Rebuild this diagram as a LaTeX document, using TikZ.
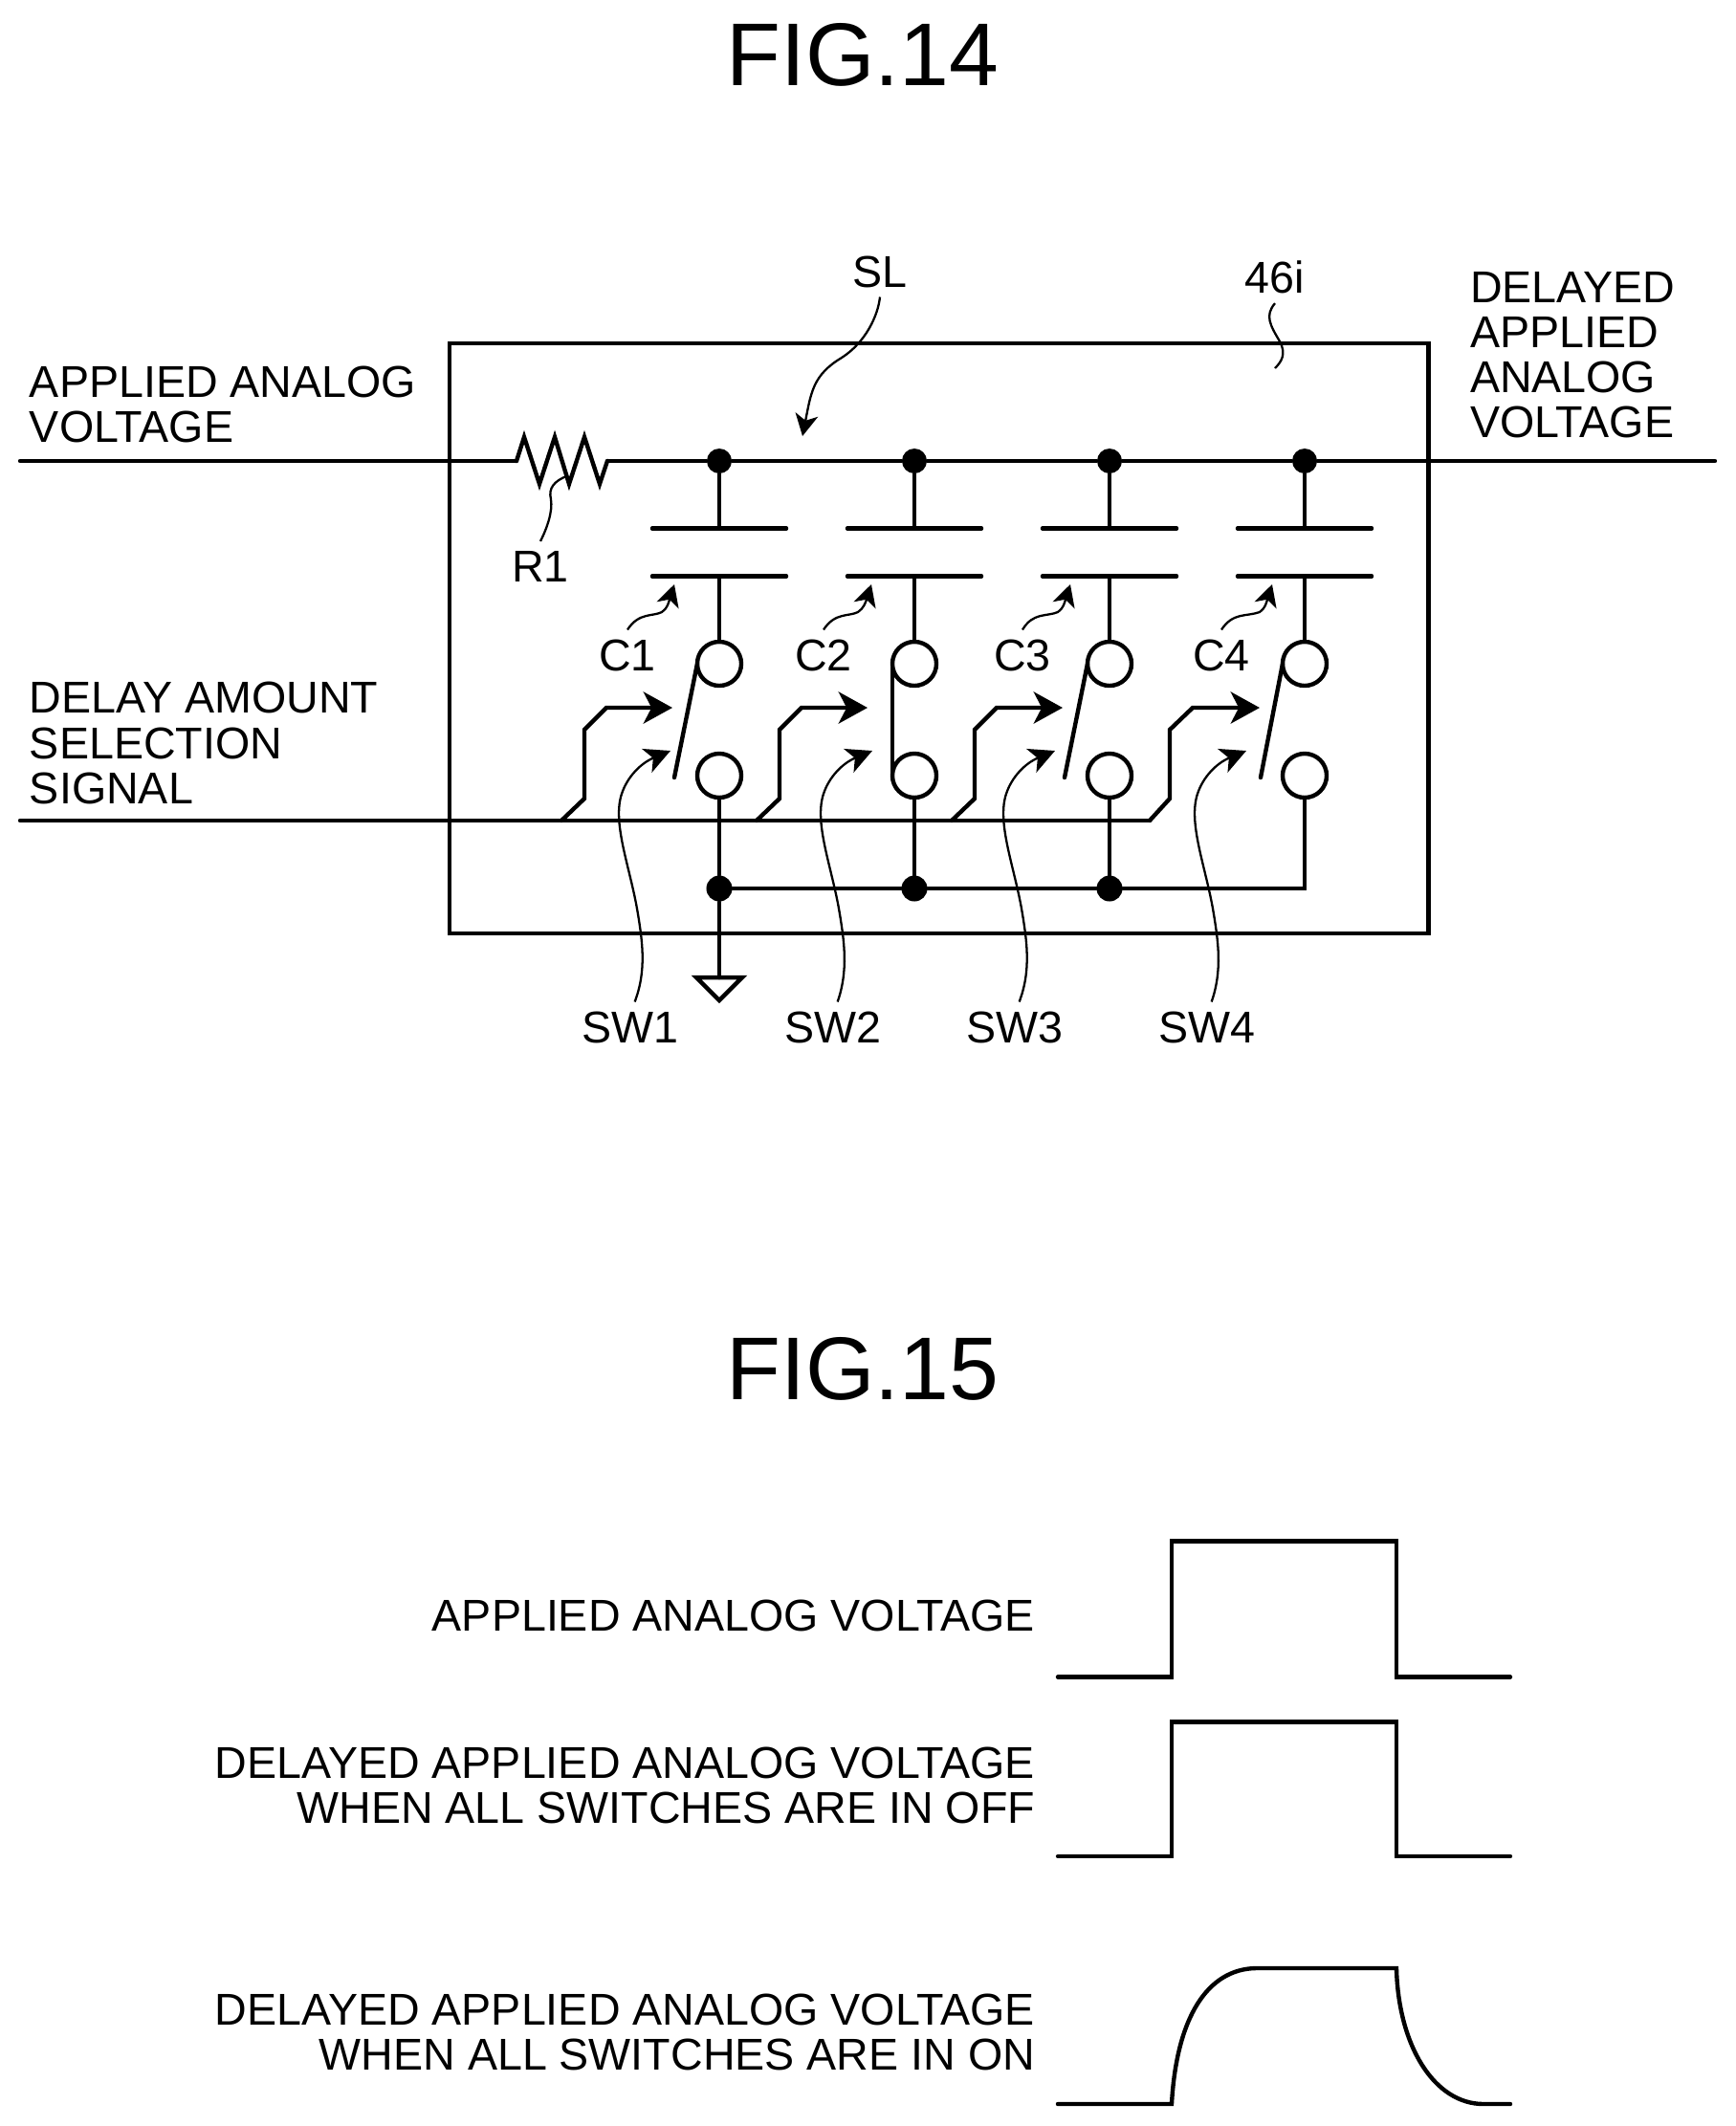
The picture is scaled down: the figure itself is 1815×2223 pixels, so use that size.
\documentclass[tikz,border=0pt]{standalone}
\usepackage{fontspec}
\setmainfont{Liberation Sans}
\usetikzlibrary{arrows.meta,shapes.geometric,positioning}

\tikzset{
  wire/.style={line width=1.25pt, line cap=round},
  leader/.style={line width=0.65pt},
  leadarrow/.style={leader, -{Stealth[length=6.5pt,width=6.8pt,inset=1.8pt]}},
  swarrow/.style={leader, -{Stealth[length=7.6pt,width=7.6pt,inset=2pt]}},
  ctrlarrow/.style={wire, line join=miter, -{Stealth[length=8.6pt,width=9.4pt,inset=2.4pt]}},
  dot/.style={circle, fill=black, inner sep=0pt, minimum size=0.26cm},
  term/.style={circle, draw, line width=1.25pt, fill=none, inner sep=0pt, outer sep=0pt, minimum size=0.46cm},
  lab/.style={inner sep=0.1cm, outer sep=0pt, font=\fontsize{13.25}{13.4}\selectfont},
  block/.style={lab, inner sep=0pt, align=left, anchor=west},
  rblock/.style={lab, inner sep=0pt, align=right, anchor=east},
  title/.style={inner sep=0pt, font=\fontsize{26.5}{30}\selectfont}
}

\begin{document}
\begin{tikzpicture}[x=0.01cm,y=-0.01cm]
    \useasboundingbox (0,0) rectangle (1815,2223);

    % FIG.14
    \node (Fig14) at (902,57) [title] {FIG.14};
    \node (Box) at (981.5,667.5) [draw, line width=1.25pt, inner sep=0pt, minimum width=10.23cm, minimum height=6.17cm] {};

    \node (Applied) at (31,423) [block] {APPLIED ANALOG\\VOLTAGE};
    \node (Delayed) at (1537,371) [block] {DELAYED\\APPLIED\\ANALOG\\VOLTAGE};
    \node (Select) at (31,777) [block] {DELAY AMOUNT\\SELECTION\\SIGNAL};

    \node (SL) at (920,284) [lab] {SL};
    \node (Num) at (1333,290) [lab] {46i};
    \node (R1) at (565,592) [lab] {R1};
    \node (C1) at (656,685) [lab] {C1};
    \node (C2) at (861,685) [lab] {C2};
    \node (C3) at (1069,685) [lab] {C3};
    \node (C4) at (1277,685) [lab] {C4};
    \node (SW1) at (659,1074) [lab] {SW1};
    \node (SW2) at (871,1074) [lab] {SW2};
    \node (SW3) at (1061,1074) [lab] {SW3};
    \node (SW4) at (1262,1074) [lab] {SW4};

    % signal line
    \coordinate (InA) at (21,482);
    \coordinate (OutA) at (1793,482);
    \coordinate (ResL) at (540,482);
    \coordinate (ResR) at (635,482);
    \node (Top1) at (752,482) [dot] {};
    \node (Top2) at (956,482) [dot] {};
    \node (Top3) at (1160,482) [dot] {};
    \node (Top4) at (1364,482) [dot] {};
    \draw[wire] (InA) -- (ResL);
    \draw[wire, line join=miter] (ResL) -- ++(8,-25) -- ++(16,49) -- ++(16,-49) -- ++(15,49) -- ++(16,-49) -- ++(16,49) -- (ResR);
    \draw[wire] (ResR) -- (Top1) -- (Top2) -- (Top3) -- (Top4) -- (OutA);

    % capacitors
    \coordinate (PlA1) at (752,552.5);
    \coordinate (PlA2) at (956,552.5);
    \coordinate (PlA3) at (1160,552.5);
    \coordinate (PlA4) at (1364,552.5);
    \coordinate (PlB1) at (752,602.5);
    \coordinate (PlB2) at (956,602.5);
    \coordinate (PlB3) at (1160,602.5);
    \coordinate (PlB4) at (1364,602.5);
    \draw[wire] ([xshift=-0.7cm]PlA1) -- ([xshift=0.7cm]PlA1);
    \draw[wire] ([xshift=-0.7cm]PlB1) -- ([xshift=0.7cm]PlB1);
    \draw[wire] ([xshift=-0.7cm]PlA2) -- ([xshift=0.7cm]PlA2);
    \draw[wire] ([xshift=-0.7cm]PlB2) -- ([xshift=0.7cm]PlB2);
    \draw[wire] ([xshift=-0.7cm]PlA3) -- ([xshift=0.7cm]PlA3);
    \draw[wire] ([xshift=-0.7cm]PlB3) -- ([xshift=0.7cm]PlB3);
    \draw[wire] ([xshift=-0.7cm]PlA4) -- ([xshift=0.7cm]PlA4);
    \draw[wire] ([xshift=-0.7cm]PlB4) -- ([xshift=0.7cm]PlB4);

    % switches
    \node (Up1) at (752,694) [term] {};
    \node (Up2) at (956,694) [term] {};
    \node (Up3) at (1160,694) [term] {};
    \node (Up4) at (1364,694) [term] {};
    \node (Lo1) at (752,811) [term] {};
    \node (Lo2) at (956,811) [term] {};
    \node (Lo3) at (1160,811) [term] {};
    \node (Lo4) at (1364,811) [term] {};
    \draw[wire] (Top1) -- (PlA1);
    \draw[wire] (Top2) -- (PlA2);
    \draw[wire] (Top3) -- (PlA3);
    \draw[wire] (Top4) -- (PlA4);
    \draw[wire] (PlB1) -- (Up1.north);
    \draw[wire] (PlB2) -- (Up2.north);
    \draw[wire] (PlB3) -- (Up3.north);
    \draw[wire] (PlB4) -- (Up4.north);
    \coordinate (Blade1) at (705,813);
    \coordinate (Blade3) at (1113,813);
    \coordinate (Blade4) at (1318,813);
    \draw[wire] (Up1.west) -- (Blade1);
    \draw[wire] (Up2.west) -- (Lo2.west);
    \draw[wire] (Up3.west) -- (Blade3);
    \draw[wire] (Up4.west) -- (Blade4);

    % ground rail
    \node (Jn1) at (752,929) [dot, minimum size=0.27cm] {};
    \node (Jn2) at (956,929) [dot, minimum size=0.27cm] {};
    \node (Jn3) at (1160,929) [dot, minimum size=0.27cm] {};
    \coordinate (Jn4) at (1364,929);
    \node (Gnd) at (752,1032) [isosceles triangle, isosceles triangle apex angle=90, shape border rotate=-90, draw, line width=1.25pt, inner sep=0pt, outer sep=0pt, minimum height=0.24cm] {};
    \draw[wire] (Lo1.south) -- (Jn1);
    \draw[wire] (Lo2.south) -- (Jn2);
    \draw[wire] (Lo3.south) -- (Jn3);
    \draw[wire, line join=miter] (Jn1) -- (Jn2) -- (Jn3) -- (Jn4) -- (Lo4.south);
    \draw[wire] (Jn1) -- (Gnd.north);

    % selection signal
    \coordinate (InS) at (21,858);
    \coordinate (Tap1) at (587,858);
    \coordinate (Tap2) at (791,858);
    \coordinate (Tap3) at (995,858);
    \coordinate (Tap4) at (1202,858);
    \coordinate (Ctl1) at (703,740);
    \coordinate (Ctl2) at (907,740);
    \coordinate (Ctl3) at (1111,740);
    \coordinate (Ctl4) at (1317,740);
    \draw[wire] (InS) -- (Tap4);
    \draw[ctrlarrow] (Tap1) -- ++(24,-23) -- ++(0,-72) -- ++(23,-23) -- (Ctl1);
    \draw[ctrlarrow] (Tap2) -- ++(24,-23) -- ++(0,-72) -- ++(23,-23) -- (Ctl2);
    \draw[ctrlarrow] (Tap3) -- ++(24,-23) -- ++(0,-72) -- ++(23,-23) -- (Ctl3);
    \draw[ctrlarrow] (Tap4) -- ++(21,-23) -- ++(0,-72) -- ++(24,-23) -- (Ctl4);

    % reference leaders
    \coordinate (ArrSL) at (839,456);
    \coordinate (ArrC1) at (705,611);
    \coordinate (ArrC2) at (911,611);
    \coordinate (ArrC3) at (1119,611);
    \coordinate (ArrC4) at (1330,611);
    \coordinate (ArrS1) at (701,785);
    \coordinate (ArrS2) at (912,785);
    \coordinate (ArrS3) at (1103,785);
    \coordinate (ArrS4) at (1303,785);
    \coordinate (EndR1) at (592,498);
    \coordinate (End46) at (1333,385);
    \draw[leadarrow] (SL.south) .. controls (918,330) and (905,358) .. (880,374) .. controls (850,392) and (848,410) .. (ArrSL);
    \draw[leader] (R1.north) .. controls (572,552) and (578,535) .. (576,522) .. controls (573,510) and (580,503) .. (EndR1);
    \draw[leader] (Num.south) .. controls (1322,330) and (1328,340) .. (1338,357) .. controls (1345,370) and (1340,378) .. (End46);
    \draw[leadarrow] (C1.north) .. controls (668,640) and (682,645) .. (692,640) .. controls (698,636) and (699,630) .. (ArrC1);
    \draw[leadarrow] (C2.north) .. controls (873,640) and (887,645) .. (897,640) .. controls (903,636) and (905,630) .. (ArrC2);
    \draw[leadarrow] (C3.north) .. controls (1080,640) and (1094,645) .. (1106,640) .. controls (1112,636) and (1113,630) .. (ArrC3);
    \draw[leadarrow] (C4.north) .. controls (1289,640) and (1303,645) .. (1317,640) .. controls (1323,636) and (1324,630) .. (ArrC4);
    \draw[swarrow] (SW1.80) .. controls (676,1015) and (672,985) .. (666,950) .. controls (658,905) and (640,860) .. (650,830) .. controls (656,812) and (670,798) .. (ArrS1);
    \draw[swarrow] (SW2.80) .. controls (887,1015) and (883,985) .. (877,950) .. controls (869,905) and (851,860) .. (861,830) .. controls (867,812) and (881,798) .. (ArrS2);
    \draw[swarrow] (SW3.80) .. controls (1078,1015) and (1074,985) .. (1068,950) .. controls (1060,905) and (1042,860) .. (1052,830) .. controls (1058,812) and (1072,798) .. (ArrS3);
    \draw[swarrow] (SW4.80) .. controls (1278,1015) and (1274,985) .. (1268,950) .. controls (1260,905) and (1242,860) .. (1252,830) .. controls (1258,812) and (1272,798) .. (ArrS4);

    % FIG.15
    \node (Fig15) at (902,1431) [title] {FIG.15};
    \node (Wave1) at (1082,1689) [rblock] {APPLIED ANALOG VOLTAGE};
    \node (Wave2) at (1082,1867) [rblock] {DELAYED APPLIED ANALOG VOLTAGE\\WHEN ALL SWITCHES ARE IN OFF};
    \node (Wave3) at (1082,2125) [rblock] {DELAYED APPLIED ANALOG VOLTAGE\\WHEN ALL SWITCHES ARE IN ON};

    \draw[wire, line join=miter] (1106,1753.5) -- (1225,1753.5) -- (1225,1611.5) -- (1460,1611.5) -- (1460,1753.5) -- (1579,1753.5);
    \draw[wire, line join=miter] (1106,1941) -- (1225,1941) -- (1225,1800.5) -- (1460,1800.5) -- (1460,1941) -- (1579,1941);
    \draw[wire] (1106,2200) -- (1225,2200) .. controls (1230,2110) and (1262,2059) .. (1313,2058) -- (1460,2058) .. controls (1462,2140) and (1500,2200) .. (1551,2200) -- (1579,2200);
\end{tikzpicture}
\end{document}
